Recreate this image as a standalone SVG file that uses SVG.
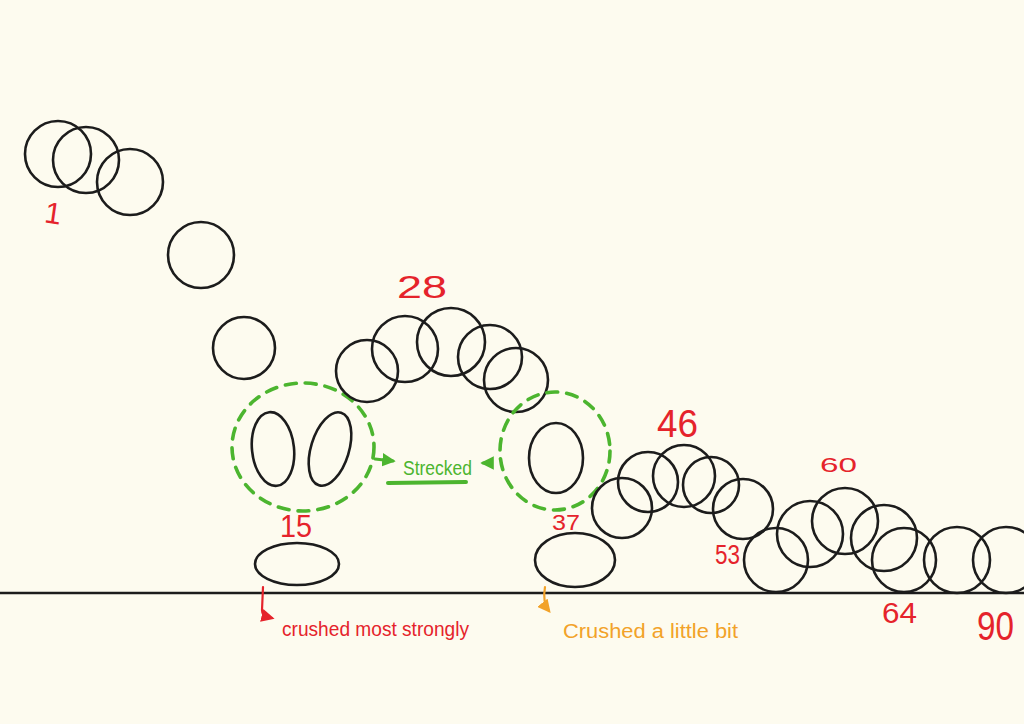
<svg xmlns="http://www.w3.org/2000/svg" width="1024" height="724" viewBox="0 0 1024 724">
<style>
.ball{fill:none;stroke:#1c1c1c;stroke-width:2.6}
.dash{fill:none;stroke:#4cb52f;stroke-width:3.6;stroke-dasharray:11 9;stroke-linecap:round}
.num{fill:#e5232b;font-family:"Liberation Sans",Arial,sans-serif}
.note{font-family:"Liberation Sans",Arial,sans-serif;font-size:20px}
</style>
<defs>
<marker id="hRed" viewBox="0 0 10 10" refX="8" refY="5" markerWidth="6" markerHeight="6" orient="auto"><path d="M0,0 L10,5 L0,10 z" fill="#e5232b"/></marker>
<marker id="hOrange" viewBox="0 0 10 10" refX="8" refY="5" markerWidth="6" markerHeight="6" orient="auto"><path d="M0,0 L10,5 L0,10 z" fill="#f2a229"/></marker>
<marker id="hGreen" viewBox="0 0 10 10" refX="8" refY="5" markerWidth="4.5" markerHeight="4.5" orient="auto"><path d="M0,0 L10,5 L0,10 z" fill="#4cb52f"/></marker>
</defs>
<rect width="1024" height="724" fill="#fdfbef"/>
<line x1="0" y1="593" x2="1024" y2="593" stroke="#1c1c1c" stroke-width="2.4"/>

<g id="fall">
<circle class="ball" cx="58" cy="154" r="33"/>
<circle class="ball" cx="86" cy="160" r="33"/>
<circle class="ball" cx="130" cy="182" r="33"/>
<circle class="ball" cx="201" cy="255" r="33"/>
<circle class="ball" cx="244" cy="348" r="31"/>
</g>
<g id="stretch1">
<ellipse class="dash" cx="303" cy="447" rx="71" ry="64"/>
<ellipse class="ball" cx="273" cy="449" rx="21" ry="37" transform="rotate(-6 273 449)"/>
<ellipse class="ball" cx="330" cy="449" rx="19" ry="38" transform="rotate(17 330 449)"/>
</g>
<g id="impact15">
<ellipse class="ball" cx="297" cy="564" rx="42" ry="21"/>
</g>
<g id="arc28">
<circle class="ball" cx="367" cy="371" r="31"/>
<circle class="ball" cx="405" cy="349" r="33"/>
<circle class="ball" cx="451" cy="342" r="34"/>
<circle class="ball" cx="490" cy="357" r="32"/>
<circle class="ball" cx="516" cy="380" r="32"/>
</g>
<g id="stretch2">
<ellipse class="dash" cx="555" cy="451" rx="55" ry="59"/>
<ellipse class="ball" cx="556" cy="458" rx="27" ry="35"/>
</g>
<g id="impact37">
<ellipse class="ball" cx="575" cy="560" rx="40" ry="27"/>
</g>
<g id="arc46">
<circle class="ball" cx="622" cy="508" r="30"/>
<circle class="ball" cx="648" cy="482" r="30"/>
<circle class="ball" cx="684" cy="476" r="31"/>
<circle class="ball" cx="711" cy="485" r="28"/>
<circle class="ball" cx="743" cy="509" r="30"/>
</g>
<g id="arc60">
<circle class="ball" cx="776" cy="560" r="32"/>
<circle class="ball" cx="810" cy="534" r="33"/>
<circle class="ball" cx="845" cy="521" r="33"/>
<circle class="ball" cx="884" cy="538" r="33"/>
<circle class="ball" cx="904" cy="560" r="32"/>
<circle class="ball" cx="957" cy="560" r="33"/>
<circle class="ball" cx="1006" cy="560" r="33"/>
</g>

<g id="connectors" fill="none" stroke-linecap="round">
<path d="M263,587 L262,610 Q262,616 268,617 L272,618" stroke="#e5232b" stroke-width="2.2" marker-end="url(#hRed)"/>
<path d="M545,587 C543,598 545,606 549,611" stroke="#f2a229" stroke-width="2.2" marker-end="url(#hOrange)"/>
<path d="M375,459 L393,461" stroke="#4cb52f" stroke-width="3" marker-end="url(#hGreen)"/>
<path d="M491,463 L483,463" stroke="#4cb52f" stroke-width="3" marker-end="url(#hGreen)"/>
<path d="M388,483 L466,482" stroke="#4cb52f" stroke-width="4"/>
</g>

<g id="labels">
<text class="num" x="45" y="223" font-size="30" transform="rotate(8 50 212)">1</text>
<text class="num" x="397" y="298" font-size="32" textLength="50" lengthAdjust="spacingAndGlyphs">28</text>
<text class="num" x="280" y="537" font-size="32" textLength="32" lengthAdjust="spacingAndGlyphs">15</text>
<text class="num" x="552" y="530" font-size="22" textLength="28" lengthAdjust="spacingAndGlyphs">37</text>
<text class="num" x="657" y="437" font-size="38" textLength="41" lengthAdjust="spacingAndGlyphs">46</text>
<text class="num" x="715" y="564" font-size="28" textLength="25" lengthAdjust="spacingAndGlyphs">53</text>
<text class="num" x="820" y="472" font-size="21" textLength="37" lengthAdjust="spacingAndGlyphs">60</text>
<text class="num" x="882" y="623" font-size="29" textLength="35" lengthAdjust="spacingAndGlyphs">64</text>
<text class="num" x="977" y="640" font-size="40" textLength="37" lengthAdjust="spacingAndGlyphs">90</text>
<text class="note" x="403" y="475" fill="#4cb52f" textLength="69" lengthAdjust="spacingAndGlyphs">Strecked</text>
<text class="note" x="282" y="636" fill="#e5232b" textLength="187" lengthAdjust="spacingAndGlyphs">crushed most strongly</text>
<text class="note" x="563" y="638" fill="#f2a229" textLength="175" lengthAdjust="spacingAndGlyphs">Crushed a little bit</text>
</g>
</svg>
